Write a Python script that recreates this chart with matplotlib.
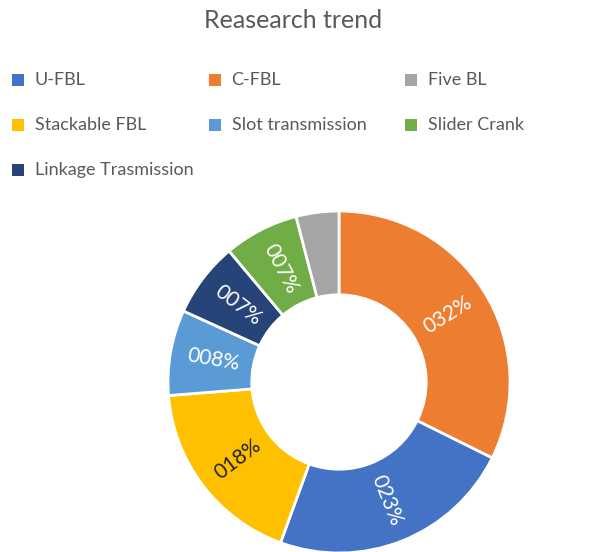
import numpy as np
import matplotlib.pyplot as plt
from matplotlib.patches import Rectangle

plt.rcParams['font.family'] = ['Lato', 'DejaVu Sans']

# slices in drawing order (clockwise from 12 o'clock)
slice_names = ['C-FBL', 'U-FBL', 'Stackable FBL', 'Slot transmission',
               'Linkage Trasmission', 'Slider Crank', 'Five BL']
slice_values = [32, 23, 18, 8, 7, 7, 4]
show_label = [True, True, True, True, True, True, False]

colors = {
    'U-FBL': '#4472C4',
    'C-FBL': '#ED7D31',
    'Five BL': '#A5A5A5',
    'Stackable FBL': '#FFC000',
    'Slot transmission': '#5B9BD5',
    'Slider Crank': '#70AD47',
    'Linkage Trasmission': '#264478',
}

# legend layout: 3 columns, rows read left to right
legend_order = ['U-FBL', 'C-FBL', 'Five BL',
                'Stackable FBL', 'Slot transmission', 'Slider Crank',
                'Linkage Trasmission']

W, H = 604, 552
fig = plt.figure(figsize=(W / 100, H / 100), dpi=100)

fig.text(293 / W, 1 - 20 / H, 'Reasearch trend', ha='center', va='center',
         fontsize=18, color='#595959')

# legend
for i, name in enumerate(legend_order):
    col, row = i % 3, i // 3
    x0 = 12 + col * 196.5
    yc = 80 + row * 45
    fig.patches.append(Rectangle((x0 / W, 1 - (yc + 6) / H), 12 / W, 12 / H,
                                 transform=fig.transFigure, figure=fig,
                                 facecolor=colors[name], edgecolor='none'))
    fig.text((x0 + 23) / W, 1 - yc / H, name, ha='left', va='center',
             fontsize=13, color='#595959')

# donut
cx, cy, r = 339, 382, 171
ax = fig.add_axes([(cx - r) / W, 1 - (cy + r) / H, 2 * r / W, 2 * r / H])
wedges, _ = ax.pie(slice_values, colors=[colors[n] for n in slice_names],
                   startangle=90, counterclock=False, radius=1,
                   wedgeprops=dict(width=0.49, edgecolor='white', linewidth=2))
ax.set_xlim(-1, 1)
ax.set_ylim(-1, 1)
ax.set_aspect('equal')
ax.axis('off')

for w, v, name, show in zip(wedges, slice_values, slice_names, show_label):
    if not show:
        continue
    mid = np.deg2rad((w.theta1 + w.theta2) / 2)
    rr = 0.745
    x, y = rr * np.cos(mid), rr * np.sin(mid)
    rot = np.rad2deg(mid)
    rot = (rot + 180) % 360 - 180
    if rot > 90:
        rot -= 180
    elif rot < -90:
        rot += 180
    tc = '#262626' if name == 'Stackable FBL' else 'white'
    ax.text(x, y, f'{v:03d}%', ha='center', va='center', rotation=rot,
            rotation_mode='anchor', fontsize=15, color=tc)

fig.savefig('out.png', dpi=100)
